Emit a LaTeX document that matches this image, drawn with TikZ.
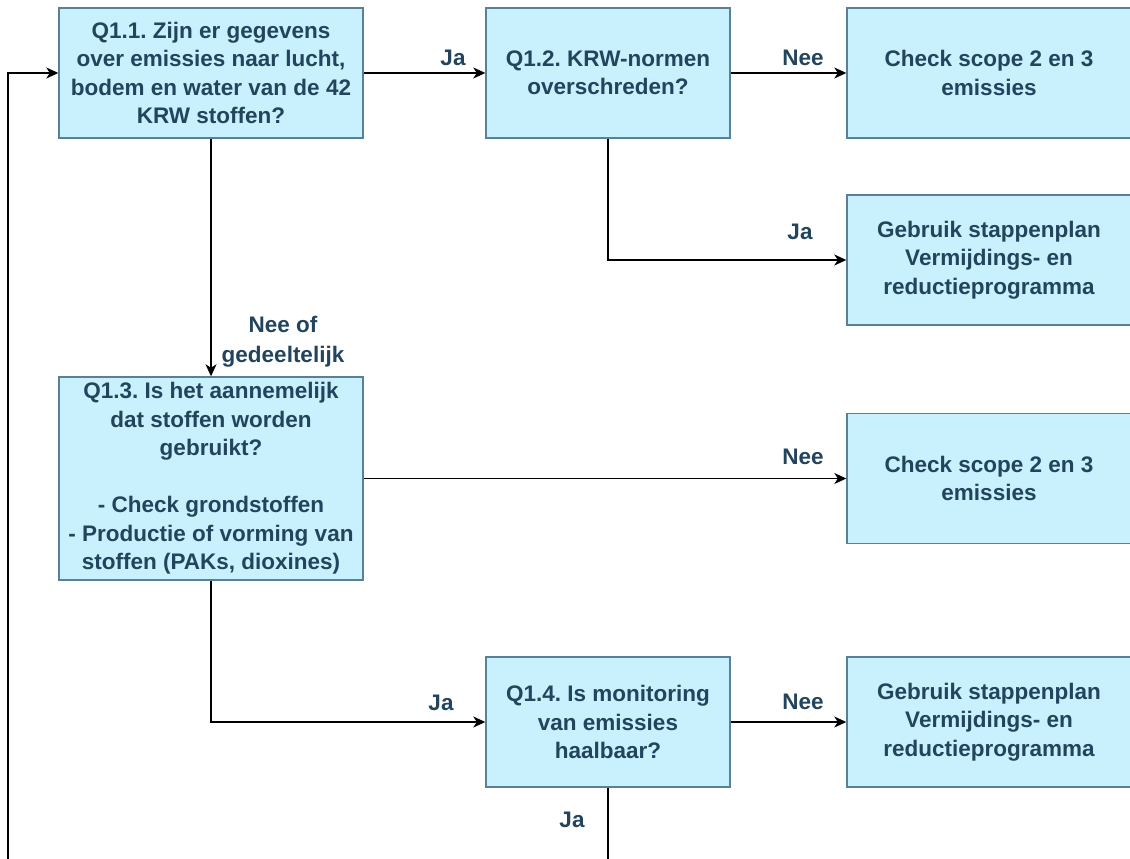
\documentclass[tikz,border=0pt]{standalone}
\usepackage{fontspec}
\setmainfont{Liberation Sans}
\usetikzlibrary{arrows.meta}
\definecolor{boxfill}{HTML}{C9F1FD}
\definecolor{boxline}{HTML}{5A7F99}
\definecolor{txt}{HTML}{23445D}
\tikzset{
  qbox/.style={draw=boxline, fill=boxfill, line width=1.4pt, rectangle,
    align=center, text=txt, inner sep=0pt,
    font=\frenchspacing\bfseries\fontsize{22.5}{28.5}\selectfont},
  conn/.style={draw=black, line width=1.3pt, -{Stealth[length=12pt,width=11pt,inset=3.5pt]}},
  lbl/.style={text=txt, align=center, inner sep=0pt,
    font=\bfseries\fontsize{22.5}{30}\selectfont}
}
\begin{document}
\begin{tikzpicture}[x=1pt,y=-1pt]
\useasboundingbox (0,0) rectangle (1130,859);
\node[qbox, minimum width=304pt, minimum height=130pt] (q11) at (211,73)
  {Q1.1. Zijn er gegevens\\over emissies naar lucht,\\bodem en water van de 42\\KRW stoffen?};
\node[qbox, minimum width=244pt, minimum height=130pt] (q12) at (608,73)
  {Q1.2. KRW-normen\\overschreden?};
\node[qbox, minimum width=284pt, minimum height=130pt] (c1) at (989,73)
  {Check scope 2 en 3\\emissies};
\node[qbox, minimum width=284pt, minimum height=130pt] (g1) at (989,260)
  {Gebruik stappenplan\\Vermijdings- en\\reductieprogramma};
\node[qbox, minimum width=304pt, minimum height=203pt] (q13) at (211,478.5)
  {Q1.3. Is het aannemelijk\\dat stoffen worden\\gebruikt?\\[28.5pt]- Check grondstoffen\\- Productie of vorming van\\stoffen (PAKs, dioxines)};
\node[qbox, minimum width=284pt, minimum height=130pt] (c2) at (989,478.5)
  {Check scope 2 en 3\\emissies};
\node[qbox, minimum width=244pt, minimum height=130pt] (q14) at (608,722)
  {Q1.4. Is monitoring\\van emissies\\haalbaar?};
\node[qbox, minimum width=284pt, minimum height=130pt] (g2) at (989,722)
  {Gebruik stappenplan\\Vermijdings- en\\reductieprogramma};

\coordinate (loopa) at (608,900);
\coordinate (loopb) at (8,900);
\coordinate (loopc) at (8,73);

\draw[conn] (q11.east) -- (q12.west);
\draw[conn] (q12.east) -- (c1.west);
\draw[conn] (q12.south) |- (g1.west);
\draw[conn] (q11.south) -- (q13.north);
\draw[conn] (q13.east |- c2.west) -- (c2.west);
\draw[conn] (q13.south) |- (q14.west);
\draw[conn] (q14.east) -- (g2.west);
\draw[conn] (q14.south) -- (loopa) -- (loopb) -- (loopc) -- (q11.west);

\node[lbl] (l1) at (453,58) {Ja};
\node[lbl] (l2) at (803,58) {Nee};
\node[lbl] (l3) at (800,232) {Ja};
\node[lbl] (l4) at (283,342) {Nee of\\gedeeltelijk};
\node[lbl] (l5) at (803,457) {Nee};
\node[lbl] (l6) at (441,703) {Ja};
\node[lbl] (l7) at (803,702) {Nee};
\node[lbl] (l8) at (572,820) {Ja};
\end{tikzpicture}
\end{document}
